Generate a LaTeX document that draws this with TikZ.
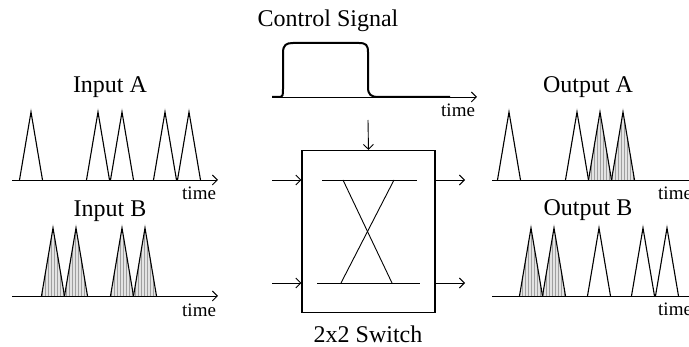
\documentclass[tikz,border=0pt]{standalone}
\usepackage{fontspec}
\setmainfont{Liberation Serif}
\usetikzlibrary{arrows.meta,patterns}
\tikzset{
  lbl/.style={font=\fontsize{24}{28}\selectfont, inner sep=0pt, anchor=base},
  tlbl/.style={font=\fontsize{19}{22}\selectfont, inner sep=0pt, anchor=base west},
  axis/.style={line width=0.9pt},
  axarrow/.style={line width=0.9pt, -{Straight Barb[length=5pt,width=10pt,line width=0.9pt]}},
  conn/.style={line width=0.9pt, -{Straight Barb[length=5pt,width=10pt,line width=0.9pt]}},
  pulse/.pic={\draw[line width=1.1pt, line join=miter] (-11.5,0) -- (0,-68) -- (11.5,0);},
  spulse/.pic={
    \fill[gray!22] (-11.5,0) -- (0,-68) -- (11.5,0) -- cycle;
    \fill[pattern=vertical lines, pattern color=gray!75] (-11.5,0) -- (0,-68) -- (11.5,0) -- cycle;
    \draw[line width=1.1pt] (-11.5,0) -- (0,-68) -- (11.5,0);},
  swbox/.style={draw, line width=1.1pt, minimum width=133pt, minimum height=162pt, inner sep=0pt},
  xline/.style={line width=0.9pt}
}
\begin{document}
\begin{tikzpicture}[x=1pt,y=-1pt]
\useasboundingbox (0,0) rectangle (689,347);

% ---------- Input A ----------
\node[lbl] (inAl) at (110,93) {Input A};
\coordinate (inA0) at (12,180);
\coordinate (inA1) at (218,180);
\draw[axarrow] (inA0) -- (inA1);
\foreach \x in {31,98,122,165,189} \pic at (\x,180) {pulse};
\node[tlbl] (inAt) at (182,200) {time};

% ---------- Input B ----------
\node[lbl] (inBl) at (110,217) {Input B};
\coordinate (inB0) at (12,296);
\coordinate (inB1) at (218,296);
\foreach \x in {53,76,122,145} \pic at (\x,296) {spulse};
\draw[axarrow] (inB0) -- (inB1);
\node[tlbl] (inBt) at (182,317) {time};

% ---------- Control signal ----------
\node[lbl] (ctl) at (328,27) {Control Signal};
\coordinate (c0) at (272,97);
\coordinate (c1) at (477,97);
\draw[axarrow] (c0) -- (c1);
\draw[line width=2pt, line join=round]
  (272,97) -- (279,97) .. controls (283,97) and (283,95) .. (283,89)
  -- (283,53) .. controls (283,45) and (286,43) .. (293,43)
  -- (359,43) .. controls (366,43) and (368,45) .. (368,52)
  -- (368,87) .. controls (368,95) and (371,97) .. (379,97) -- (450,97);
\node[tlbl] (ct) at (441,117) {time};

% ---------- Switch ----------
\node[swbox] (sw) at (368.5,231.5) {};
\node[lbl] (swl) at (368,343) {2x2 Switch};
\coordinate (ctop) at (368,120);
\draw[conn] (ctop) -- (sw.north);
\coordinate (pa) at (272,180);
\coordinate (pb) at (272,283);
\coordinate (qa) at (465,180);
\coordinate (qb) at (465,283);
\draw[conn] (pa) -- (pa -| sw.west);
\draw[conn] (pb) -- (pb -| sw.west);
\draw[conn] (qa -| sw.east) -- (qa);
\draw[conn] (qb -| sw.east) -- (qb);
\draw[xline] (322,180) -- (417,180);
\draw[xline] (317,283) -- (420,283);
\draw[xline] (343,180) -- (392,283);
\draw[xline] (394,180) -- (341,283);

% ---------- Output A ----------
\node[lbl] (outAl) at (588,93) {Output A};
\coordinate (oA0) at (492,180);
\coordinate (oA1) at (690,180);
\foreach \x in {600,623} \pic at (\x,180) {spulse};
\foreach \x in {509,577} \pic at (\x,180) {pulse};
\draw[axis] (oA0) -- (oA1);
\node[tlbl] (oAt) at (658,200) {time};

% ---------- Output B ----------
\node[lbl] (outBl) at (588,216) {Output B};
\coordinate (oB0) at (492,296);
\coordinate (oB1) at (690,296);
\foreach \x in {531,554} \pic at (\x,296) {spulse};
\foreach \x in {599,643,667} \pic at (\x,296) {pulse};
\draw[axis] (oB0) -- (oB1);
\node[tlbl] (oBt) at (658,316) {time};
\end{tikzpicture}
\end{document}
